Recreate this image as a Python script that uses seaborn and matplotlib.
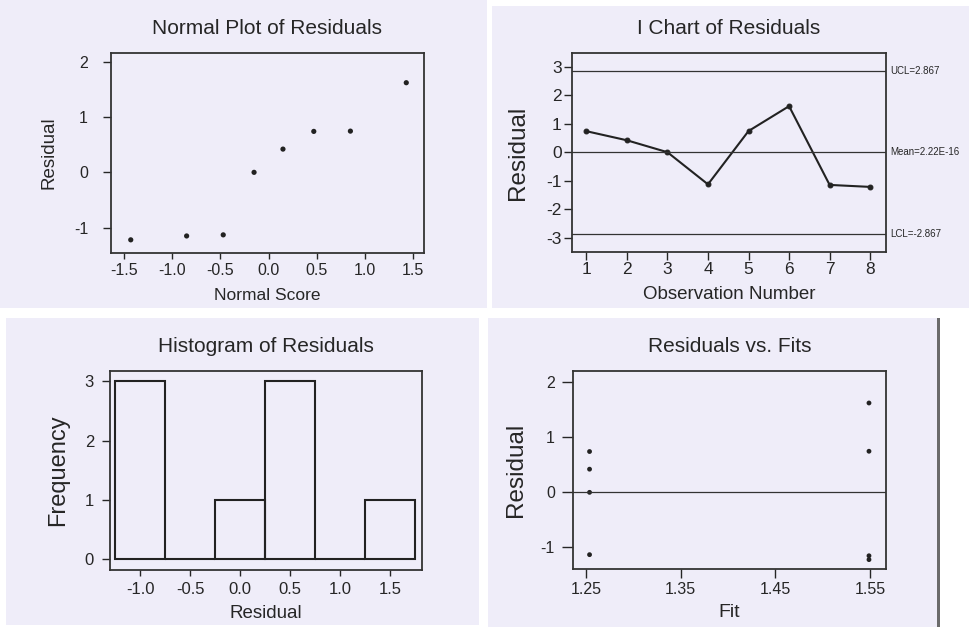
import matplotlib
matplotlib.use("Agg")
import matplotlib.pyplot as plt
from matplotlib.patches import Rectangle
import numpy as np
import pandas as pd
import seaborn as sns

# residuals (obs 1..8)
observation = [1, 2, 3, 4, 5, 6, 7, 8]
residuals = [0.74, 0.42, 0.0, -1.13, 0.745, 1.62, -1.15, -1.22]
fits = [1.2535, 1.2535, 1.2535, 1.2535, 1.549, 1.549, 1.549, 1.549]
normal_scores = [-1.43, -0.85, -0.47, -0.15, 0.15, 0.47, 0.85, 1.43]
hist_bins = [-1.25, -0.75, -0.25, 0.25, 0.75, 1.25, 1.75]

ucl, mean_line, lcl = 2.86, 0.0, -2.86
ucl_label = "UCL=2.867"
mean_label = "Mean=2.22E-16"
lcl_label = "LCL=-2.867"

df = pd.DataFrame({"obs": observation, "resid": residuals, "fit": fits})
df_norm = pd.DataFrame({"score": normal_scores, "resid": np.sort(residuals)})

sns.set_style("white")
plt.rcParams["font.family"] = ["Liberation Sans", "DejaVu Sans"]
plt.rcParams["axes.unicode_minus"] = False

BG = "#efedf9"
INK = "#262626"
W, H = 969, 627

fig = plt.figure(figsize=(9.69, 6.27), dpi=100, facecolor="white")

# scanned panel backgrounds (pixel boxes: x0, y0, x1, y1)
for x0, y0, x1, y1 in [(0, 0, 487, 308), (492, 6, 969, 308),
                       (6, 318, 479, 625), (488, 318, 937, 627)]:
    fig.patches.append(Rectangle((x0 / W, 1 - y1 / H), (x1 - x0) / W, (y1 - y0) / H,
                                 transform=fig.transFigure, facecolor=BG,
                                 edgecolor="none", zorder=-5))
fig.patches.append(Rectangle((937 / W, 0), 3 / W, 309 / H, transform=fig.transFigure,
                             facecolor="#6b6b6b", edgecolor="none", zorder=-5))


def make_ax(left, top, right, bottom):
    ax = fig.add_axes([left / W, 1 - bottom / H, (right - left) / W, (bottom - top) / H])
    ax.set_facecolor(BG)
    for s in ax.spines.values():
        s.set_color("#333333")
        s.set_linewidth(1.3)
    return ax


def style(ax, title, xlabel, ylabel, tsize, ylsize, xlsize, ylpad, xlpad,
          ylen, ypad, xlen, xpad):
    ax.set_title(title, fontsize=15, color=INK, pad=14)
    ax.set_xlabel(xlabel, fontsize=xlsize, color=INK, labelpad=xlpad)
    ax.set_ylabel(ylabel, fontsize=ylsize, color=INK, labelpad=ylpad)
    ax.tick_params(axis="y", direction="out", length=ylen, pad=ypad, width=1,
                   colors=INK, labelsize=tsize, left=True)
    ax.tick_params(axis="x", direction="out", length=xlen, pad=xpad, width=1,
                   colors=INK, labelsize=tsize, bottom=True)


# Normal plot of residuals
ax1 = make_ax(111, 53, 424, 253)
sns.scatterplot(data=df_norm, x="score", y="resid", ax=ax1, color="#222222",
                s=14, edgecolor="none")
ax1.set_xlim(-1.635, 1.614)
ax1.set_ylim(-1.458, 2.157)
ax1.set_xticks([-1.5, -1.0, -0.5, 0.0, 0.5, 1.0, 1.5])
ax1.set_xticklabels(["-1.5", "-1.0", "-0.5", "0.0", "0.5", "1.0", "1.5"])
ax1.set_yticks([-1, 0, 1, 2])
style(ax1, "Normal Plot of Residuals", "Normal Score", "Residual",
      11.5, 13.5, 12.5, 12, 7, 5.5, 11, 4.5, 3)

# I chart of residuals
ax2 = make_ax(572, 53, 886, 252)
sns.lineplot(data=df, x="obs", y="resid", ax=ax2, color="#222222", linewidth=1.5,
             marker="o", markersize=3.5, markeredgecolor="#222222")
for yv, lab in [(ucl, ucl_label), (mean_line, mean_label), (lcl, lcl_label)]:
    ax2.axhline(yv, color="#333333", linewidth=0.9)
    ax2.text(1.015, yv, lab, transform=ax2.get_yaxis_transform(), fontsize=7,
             color=INK, va="center", ha="left")
ax2.set_xlim(0.647, 8.39)
ax2.set_ylim(-3.51, 3.49)
ax2.set_xticks(observation)
ax2.set_yticks([-3, -2, -1, 0, 1, 2, 3])
style(ax2, "I Chart of Residuals", "Observation Number", "Residual",
      12.5, 17.5, 13.5, 12, 6, 6, 1.5, 6, 1.5)

# Histogram of residuals
ax3 = make_ax(110, 371, 422, 570)
sns.histplot(x=residuals, bins=hist_bins, ax=ax3, fill=False, color="#222222",
             linewidth=1.5)
ax3.set_xlim(-1.3, 1.817)
ax3.set_ylim(-0.18, 3.17)
ax3.set_xticks([-1.0, -0.5, 0.0, 0.5, 1.0, 1.5])
ax3.set_xticklabels(["-1.0", "-0.5", "0.0", "0.5", "1.0", "1.5"])
ax3.set_yticks([0, 1, 2, 3])
style(ax3, "Histogram of Residuals", "Residual", "Frequency",
      12, 17, 13.5, 11, 6, 5.5, 6, 4.5, 4)

# Residuals vs fits
ax4 = make_ax(573, 371, 886, 569)
sns.scatterplot(data=df, x="fit", y="resid", ax=ax4, color="#222222",
                s=12, edgecolor="none")
ax4.axhline(0, color="#333333", linewidth=0.9)
ax4.set_xlim(1.236, 1.567)
ax4.set_ylim(-1.39, 2.2)
ax4.set_xticks([1.25, 1.35, 1.45, 1.55])
ax4.set_xticklabels(["1.25", "1.35", "1.45", "1.55"])
ax4.set_yticks([-1, 0, 1, 2])
style(ax4, "Residuals vs. Fits", "Fit", "Residual",
      11.5, 17.5, 14, 10, 5, 8, 5, 6.5, 3)

fig.savefig("out.png", dpi=100, facecolor="white")
